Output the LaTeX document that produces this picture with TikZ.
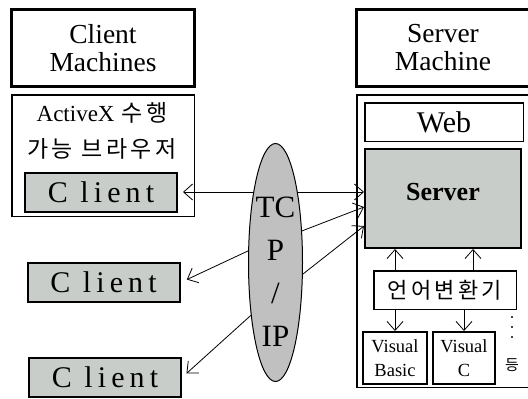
\documentclass[tikz,border=0pt]{standalone}
\usepackage{fontspec}
\setmainfont{Liberation Serif}
\newfontfamily\hangulFont{Noto Sans CJK KR}
\newfontfamily\hangulWide[LetterSpace=15]{Noto Sans CJK KR}
\newfontfamily\clientFont[LetterSpace=17]{Liberation Serif}
\usetikzlibrary{positioning, arrows.meta, calc, shapes.geometric}
\tikzstyle{pixelGrid} = [x = 1pt, y = -1pt]
\definecolor{boxGray}{RGB}{201,205,201}
\definecolor{netGray}{RGB}{192,192,192}
\tikzstyle{titleBox} = [draw, line width = 3pt, minimum width = 183pt, minimum height = 77pt, align = center, font = \fontsize{27.5}{28}\selectfont]
\tikzstyle{titleText} = [align = center, font = \fontsize{27.5}{28}\selectfont]
\tikzstyle{titleLine} = [line width = 3pt]
\tikzstyle{areaBox} = [draw, line width = 1.5pt]
\tikzstyle{areaLine} = [line width = 1.5pt]
\tikzstyle{plainBox} = [draw, line width = 1.5pt, inner sep = 0pt]
\tikzstyle{noteText} = [align = center, font = \fontsize{23}{36}\selectfont]
\tikzstyle{clientStyle} = [draw, line width = 2pt, fill = boxGray, minimum width = 152pt, minimum height = 39pt, inner sep = 0pt, font = \clientFont\fontsize{30}{30}\selectfont]
\tikzstyle{serverBox} = [draw, line width = 2pt, fill = boxGray, minimum width = 156pt, minimum height = 99pt]
\tikzstyle{serverText} = [font = \bfseries\fontsize{26}{28}\selectfont]
\tikzstyle{langBox} = [draw, line width = 2pt, minimum height = 52pt, inner sep = 0pt, align = center, font = \fontsize{18.5}{24}\selectfont]
\tikzstyle{etcText} = [font = \hangulFont\fontsize{15}{16}\selectfont]
\tikzstyle{netEllipse} = [ellipse, draw, line width = 1pt, fill = netGray, minimum width = 54pt, minimum height = 238pt, inner sep = 0pt]
\tikzstyle{netText} = [align = center, font = \fontsize{31}{43}\selectfont]
\tikzstyle{link} = [line width = .8pt, -{Straight Barb[length = 9pt, width = 16pt]}]
\tikzstyle{biLink} = [line width = .8pt, {Straight Barb[length = 9pt, width = 16pt]}-{Straight Barb[length = 9pt, width = 16pt]}]
\newcommand{\clientBox}[3]{\node [clientStyle] (#1) at (#2,#3) {C lient};}

\begin{document}
\begin{tikzpicture}[pixelGrid]
  \useasboundingbox (0,0) rectangle (528,399);

  % client side
  \node [titleBox] (clientTitle) at (103,48) {Client\\Machines};
  \node [areaBox, minimum width = 182.5pt, minimum height = 121.5pt] (clientArea) at (103,155.5) {};
  \node [noteText] (browserNote) at (102,131) {ActiveX\hspace{7pt}{\hangulWide 수행}\\{\hangulWide 가능 브라우저}};
  \clientBox{clientA}{101}{192}
  \clientBox{clientB}{103.5}{282.5}
  \clientBox{clientC}{105}{377.5}

  % server side
  \draw [titleLine] (528,9.5) -| (356.5,86.5) -- (528,86.5);
  \node [titleText] (serverTitle) at (443,48) {Server\\Machine};
  \draw [areaLine] (528,94.75) -| (356.75,387.25) -- (528,387.25);
  \node [plainBox, minimum width = 158.5pt, minimum height = 38.5pt, font = \fontsize{30}{30}\selectfont] (web) at (444,122) {Web};
  \node [serverBox] (server) at (443,198.5) {};
  \node [serverText] (serverLabel) at (443,192) {Server};
  \node [plainBox, minimum width = 142.5pt, minimum height = 38.5pt, font = \hangulWide\fontsize{22}{24}\selectfont] (converter) at (445,290) {언어변환기};
  \node [langBox, minimum width = 64pt] (vBasic) at (395,358) {Visual\\Basic};
  \node [langBox, minimum width = 62pt] (vC) at (464,358) {Visual\\C};
  \foreach \dotY in {317,327,337}
    \fill (512,\dotY) circle (1.2pt);
  \node [etcText] (etc) at (512,365) {등};

  % links
  \coordinate (upRight) at (473,260);
  \draw [link] (converter.north -| vBasic.north) -- (server.south -| vBasic.north);
  \draw [link] (converter.north -| upRight) -- (server.south -| upRight);
  \draw [link] (converter.south -| vBasic.north) -- (vBasic.north);
  \draw [link] (converter.south -| vC.north) -- (vC.north);

  \draw [biLink, shorten < = 5pt] (clientA.east) -- (clientA.east -| server.west);
  \node [netEllipse] (tcp) at (275.5,262.5) {};
  \node [netText] (tcpLabel) at (275.5,272) {TC\\P\\/\\IP};
  \coordinate (serverInA) at ($(server.north west) + (0,59)$);
  \coordinate (serverInB) at ($(server.north west) + (0,78)$);
  \draw [link] (tcp.50) -- (serverInA);
  \draw [link] (tcp.-23) -- (serverInB);
  \draw [link, shorten > = 7pt] (tcp.157) -- (clientB.east);
  \draw [link, shorten > = 6pt] (tcp.245) -- (clientC.east);
\end{tikzpicture}
\end{document}
